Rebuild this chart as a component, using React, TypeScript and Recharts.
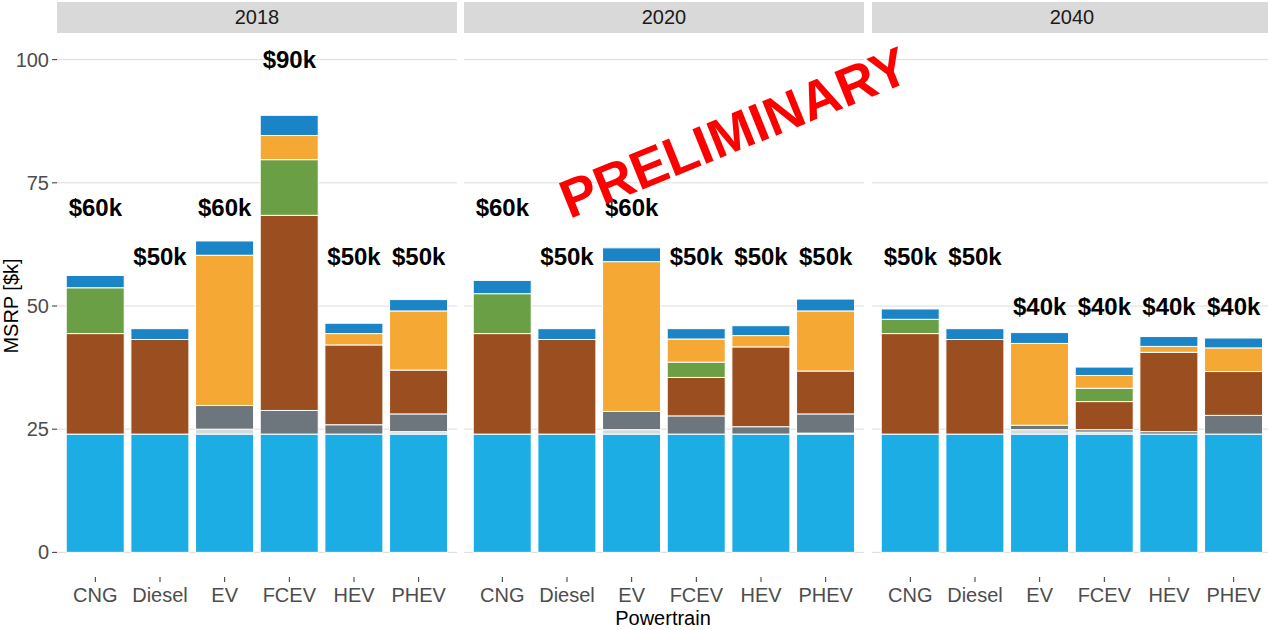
import { BarChart, Bar, XAxis, YAxis, CartesianGrid, ReferenceDot } from "recharts";

const POWERTRAINS = ["CNG", "Diesel", "EV", "FCEV", "HEV", "PHEV"];
const YEARS = ["2018", "2020", "2040"];
const Y_TICKS = [0, 25, 50, 75, 100];

// one row per year, one value per powertrain, in $k
const GLIDER = [
  [24, 24, 24, 24, 24, 24],
  [24, 24, 24, 24, 24, 24],
  [24, 24, 24, 24, 24, 24],
];
const ELECTRONICS = [
  [0, 0, 1.0, 0, 0, 0.5],
  [0, 0, 0.9, 0, 0, 0.2],
  [0, 0, 0.9, 0.4, 0, 0],
];
const MOTOR = [
  [0, 0, 4.8, 4.8, 1.9, 3.6],
  [0, 0, 3.7, 3.7, 1.5, 3.9],
  [0, 0, 0.9, 0.5, 0.5, 3.8],
];
const ENGINE = [
  [20.4, 19.2, 0, 39.6, 16.2, 8.9],
  [20.4, 19.2, 0, 7.8, 16.2, 8.7],
  [20.4, 19.2, 0, 5.7, 16.1, 8.9],
];
const FUEL_STORAGE = [
  [9.3, 0, 0, 11.3, 0, 0],
  [8.1, 0, 0, 3.1, 0, 0],
  [2.9, 0, 0, 2.7, 0, 0],
];
const BATTERY = [
  [0, 0, 30.5, 4.9, 2.3, 12.0],
  [0, 0, 30.4, 4.7, 2.3, 12.2],
  [0, 0, 16.6, 2.6, 1.2, 4.8],
];
const OTHER = [
  [2.5, 2.2, 2.9, 4.1, 2.1, 2.3],
  [2.7, 2.2, 2.8, 2.1, 2.0, 2.4],
  [2.1, 2.2, 2.2, 1.7, 2.0, 2.0],
];
const PRICE = [
  [60, 50, 60, 90, 50, 50],
  [60, 50, 60, 50, 50, 50],
  [50, 50, 40, 40, 40, 40],
];

const SERIES = [
  { key: "glider", color: "#1BADE4" },
  { key: "electronics", color: "#D5DADC" },
  { key: "motor", color: "#6D767C" },
  { key: "engine", color: "#9B4E1F" },
  { key: "fuelStorage", color: "#6B9F45" },
  { key: "battery", color: "#F6A834" },
  { key: "other", color: "#1B84C6" },
];

const FONT = '"Liberation Sans", Arial, sans-serif';
const PANEL_W = 400;
const PANEL_LEFT = [57, 464, 872];

const buildData = (y: number) =>
  POWERTRAINS.map((name, i) => ({
    name,
    glider: GLIDER[y][i],
    electronics: ELECTRONICS[y][i],
    motor: MOTOR[y][i],
    engine: ENGINE[y][i],
    fuelStorage: FUEL_STORAGE[y][i],
    battery: BATTERY[y][i],
    other: OTHER[y][i],
    price: PRICE[y][i],
  }));

const Panel = ({ yearIndex }: { yearIndex: number }) => {
  const data = buildData(yearIndex);
  const first = yearIndex === 0;
  const axisW = first ? 57 : 0;
  return (
    <div
      style={{
        position: "absolute",
        left: PANEL_LEFT[yearIndex] - axisW,
        top: 0,
      }}
    >
      <BarChart
        width={PANEL_W + axisW}
        height={630}
        data={data}
        margin={{ top: 35, right: 0, bottom: 0, left: 0 }}
        barCategoryGap="5%"
      >
        <CartesianGrid vertical={false} horizontalValues={Y_TICKS} stroke="#dcdcdc" />
        <XAxis
          dataKey="name"
          interval={0}
          height={53}
          axisLine={false}
          tickSize={5}
          tickMargin={6}
          tickLine={{ stroke: "#333333" }}
          tick={{ fontSize: 20, fill: "#4d4d4d" }}
          padding={{ left: 6, right: 6 }}
        />
        <YAxis
          hide={!first}
          width={axisW}
          domain={[-5, 105]}
          allowDataOverflow
          ticks={Y_TICKS}
          axisLine={false}
          tickSize={5}
          tickMargin={3}
          tickLine={{ stroke: "#333333" }}
          tick={{ fontSize: 20, fill: "#4d4d4d" }}
        />
        {SERIES.map((s) => (
          <Bar
            key={s.key}
            dataKey={s.key}
            stackId="msrp"
            fill={s.color}
            stroke="#ffffff"
            strokeWidth={1}
            isAnimationActive={false}
          />
        ))}
        {data.map((d) => (
          <ReferenceDot
            key={d.name}
            x={d.name}
            y={d.price + 10}
            r={0}
            fill="none"
            stroke="none"
            label={{
              value: `$${d.price}k`,
              position: "center",
              fill: "#000000",
              fontSize: 24,
              fontWeight: "bold",
            }}
          />
        ))}
      </BarChart>
      {/* facet strip */}
      <div
        style={{
          position: "absolute",
          left: axisW,
          top: 2,
          width: PANEL_W,
          height: 31,
          background: "#d9d9d9",
          color: "#1a1a1a",
          fontSize: 20,
          lineHeight: "31px",
          textAlign: "center",
        }}
      >
        {YEARS[yearIndex]}
      </div>
    </div>
  );
};

export default function App() {
  return (
    <div
      style={{
        position: "absolute",
        left: 0,
        top: 0,
        width: 1268,
        height: 630,
        overflow: "hidden",
        background: "#ffffff",
        fontFamily: FONT,
      }}
    >
      {YEARS.map((_, i) => (
        <Panel key={i} yearIndex={i} />
      ))}
      <svg
        width={1268}
        height={630}
        style={{ position: "absolute", left: 0, top: 0, pointerEvents: "none" }}
      >
        <text
          x={663}
          y={625}
          textAnchor="middle"
          fontSize={20}
          fill="#000000"
          fontFamily={FONT}
        >
          Powertrain
        </text>
        <text
          x={11}
          y={306}
          transform="rotate(-90, 11, 306)"
          textAnchor="middle"
          dominantBaseline="central"
          fontSize={20}
          fill="#000000"
          fontFamily={FONT}
        >
          MSRP [$k]
        </text>
        <text
          x={734}
          y={151}
          transform="rotate(-22, 734, 132)"
          textAnchor="middle"
          fontSize={54}
          fontWeight="bold"
          fill="#ff0000"
          fontFamily={FONT}
        >
          PRELIMINARY
        </text>
      </svg>
    </div>
  );
}
